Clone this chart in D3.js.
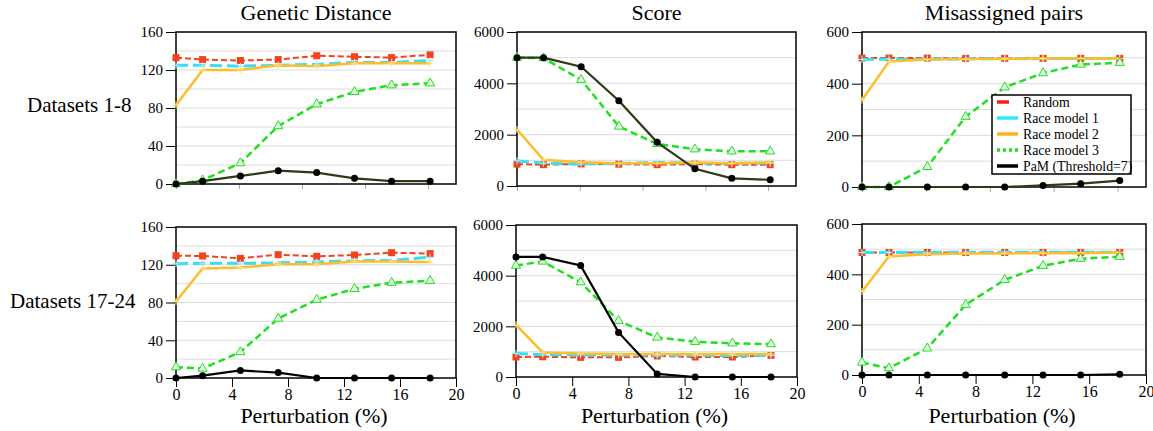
<!DOCTYPE html>
<html>
<head>
<meta charset="utf-8">
<script src="https://cdn.jsdelivr.net/npm/d3@7"></script>
<style>
body { margin: 0; background: #fff; }
svg text { fill: #000; }
</style>
</head>
<body>
<svg width="1153" height="431"></svg>
<script>
// perturbation levels (%)
var perturbation = [0, 1.9, 4.6, 7.3, 10.05, 12.75, 15.4, 18.15];

var seriesNames = ['Random', 'Race model 1', 'Race model 2', 'Race model 3', 'PaM (Threshold=7)'];
var panelTitles = ['Genetic Distance', 'Score', 'Misassigned pairs'];
var rowLabels = ['Datasets 1-8', 'Datasets 17-24'];
var yMax = [160, 6000, 600];
var yTickStep = [40, 2000, 200];
var yGridStep = [20, 1000, 100];
var xTicks = [0, 4, 8, 12, 16, 20];

// Datasets 1-8
var gdTopRandom = [133, 131, 130, 131, 135, 134, 133, 136];
var gdTopRace1 = [125, 125, 124, 125, 126, 128, 128, 130];
var gdTopRace2 = [83, 120, 120, 125, 124, 127, 127, 127];
var gdTopRace3 = [0, 4, 22, 61, 84, 97, 104, 106];
var gdTopPam = [0, 3, 8.5, 14, 12, 6, 3, 3];

var scTopRandom = [850, 830, 860, 850, 830, 850, 830, 830];
var scTopRace1 = [980, 890, 850, 880, 920, 890, 890, 890];
var scTopRace2 = [2200, 1020, 930, 890, 890, 920, 890, 920];
var scTopRace3 = [5000, 4980, 4140, 2320, 1640, 1430, 1350, 1350];
var scTopPam = [5000, 5000, 4650, 3320, 1700, 670, 300, 240];

var mpTopRandom = [499, 499, 499, 498, 498, 498, 498, 498];
var mpTopRace1 = [494, 495, 495, 496, 496, 497, 497, 497];
var mpTopRace2 = [337, 486, 494, 495, 496, 497, 497, 497];
var mpTopRace3 = [0, 0, 78, 272, 386, 441, 474, 481];
var mpTopPam = [0, 0, 0, 0, 0, 6, 13, 25];

// Datasets 17-24
var gdBotRandom = [129.6, 129.3, 126.8, 130.7, 128.9, 130.3, 132.8, 131.8];
var gdBotRace1 = [121, 121.5, 121.5, 122, 123, 124, 124.7, 128];
var gdBotRace2 = [81, 116, 117, 120.5, 120.5, 123.5, 123.5, 123];
var gdBotRace3 = [11.5, 10, 27.5, 63, 83, 94.5, 101, 103];
var gdBotPam = [0, 2.5, 8, 5.7, 0, 0, 0, 0];

var scBotRandom = [790, 800, 775, 775, 830, 790, 790, 850];
var scBotRace1 = [930, 880, 870, 870, 860, 860, 850, 850];
var scBotRace2 = [2060, 970, 930, 905, 905, 905, 905, 905];
var scBotRace3 = [4400, 4560, 3740, 2220, 1560, 1390, 1330, 1300];
var scBotPam = [4740, 4740, 4400, 1760, 120, 0, 0, 0];

var mpBotRandom = [487, 487, 487, 487, 487, 487, 487, 487];
var mpBotRace1 = [487, 487, 488, 488, 488, 488, 488, 488];
var mpBotRace2 = [332, 471, 480, 483, 483, 484, 484, 487];
var mpBotRace3 = [50, 27, 106, 279, 378, 434, 462, 470];
var mpBotPam = [0, 0, 0, 0, 0, 0, 0, 3];

var panelData = [
    [
        [gdTopRandom, gdTopRace1, gdTopRace2, gdTopRace3, gdTopPam],
        [scTopRandom, scTopRace1, scTopRace2, scTopRace3, scTopPam],
        [mpTopRandom, mpTopRace1, mpTopRace2, mpTopRace3, mpTopPam]
    ],
    [
        [gdBotRandom, gdBotRace1, gdBotRace2, gdBotRace3, gdBotPam],
        [scBotRandom, scBotRace1, scBotRace2, scBotRace3, scBotPam],
        [mpBotRandom, mpBotRace1, mpBotRace2, mpBotRace3, mpBotPam]
    ]
];

// plot boxes [left, right, top, bottom]
var boxes = [
    [[176, 456, 32, 184], [517, 796, 32, 186], [862, 1146, 32, 187]],
    [[176, 456, 227, 378], [516, 797, 225, 377], [862, 1146, 224, 375]]
];

var colors = ['#f5421c', '#3cdcf2', '#fdbe2c', '#1fe01f', '#2c3a15'];
var serif = "'Liberation Serif', 'Times New Roman', Times, 'DejaVu Serif', serif";

var svg = d3.select('svg').attr('font-family', serif);

function drawSeries(g, x, y, values, i, row) {
    var pts = perturbation.map(function(p, k) { return [x(p), y(values[k])]; });
    var line = d3.line();
    var col = colors[i];
    if (i == 4 && row == 1) col = '#000';
    var path = g.append('path')
        .attr('d', line(pts))
        .attr('fill', 'none')
        .attr('stroke', col);
    if (i == 0) path.attr('stroke-width', 2).attr('stroke-dasharray', '6,3');
    if (i == 1) path.attr('stroke-width', 3).attr('stroke-dasharray', '12,5');
    if (i == 2) path.attr('stroke-width', 2.5);
    if (i == 3) path.attr('stroke-width', 2.5).attr('stroke-dasharray', '7,4');
    if (i == 4) path.attr('stroke-width', 2.2);

    pts.forEach(function(p) {
        if (i == 0) {
            g.append('rect').attr('x', p[0] - 3.5).attr('y', p[1] - 3.5)
                .attr('width', 7).attr('height', 7).attr('fill', col);
        } else if (i == 1 || i == 2) {
            g.append('path')
                .attr('d', d3.symbol(d3.symbolCross2 || d3.symbolX, 18)())
                .attr('transform', 'translate(' + p[0] + ',' + p[1] + ') rotate(45)')
                .attr('fill', 'none').attr('stroke', i == 1 ? '#9beef8' : '#fde08a').attr('stroke-width', 1);
        } else if (i == 3) {
            g.append('path')
                .attr('d', d3.symbol(d3.symbolTriangle, 36)())
                .attr('transform', 'translate(' + p[0] + ',' + p[1] + ')')
                .attr('fill', '#e6fbe6').attr('stroke', col).attr('stroke-width', 1);
        } else {
            g.append('circle').attr('cx', p[0]).attr('cy', p[1]).attr('r', 3.5).attr('fill', '#000');
        }
    });
}

for (var row = 0; row < 2; row++) {
    for (var c = 0; c < 3; c++) {
        var b = boxes[row][c];
        var x = d3.scaleLinear().domain([0, 20]).range([b[0], b[1]]);
        var y = d3.scaleLinear().domain([0, yMax[c]]).range([b[3], b[2]]);
        var g = svg.append('g');

        // gridlines
        g.selectAll('.grid')
            .data(d3.range(yGridStep[c], yMax[c], yGridStep[c]))
            .enter().append('line')
            .attr('x1', b[0]).attr('x2', b[1])
            .attr('y1', function(d) { return y(d); })
            .attr('y2', function(d) { return y(d); })
            .attr('stroke', '#dcdcdc').attr('stroke-width', 1);

        // y axis
        var yAxis = d3.axisLeft(y)
            .tickValues(d3.range(0, yMax[c] + 1, yTickStep[c]))
            .tickSize(10).tickPadding(3)
            .tickFormat(function(d) { return d; });
        var ya = g.append('g').attr('transform', 'translate(' + b[0] + ',0)').call(yAxis)
            .attr('font-family', serif).attr('font-size', 15);
        ya.select('.domain').remove();
        ya.selectAll('line').attr('stroke', '#000');

        // x axis
        if (row == 1) {
            var xAxis = d3.axisBottom(x).tickValues(xTicks).tickSize(9).tickPadding(2);
            var xa = g.append('g').attr('transform', 'translate(0,' + b[3] + ')').call(xAxis)
                .attr('font-family', serif).attr('font-size', 16);
            xa.select('.domain').remove();
            xa.selectAll('line').attr('stroke', '#000');
            g.append('text')
                .attr('x', (b[0] + b[1]) / 2 - 2).attr('y', 423)
                .attr('text-anchor', 'middle')
                .attr('font-size', 22)
                .text('Perturbation (%)');
        } else {
            var xAxisTop = d3.axisBottom(x).tickValues([0, 4.5, 9, 13.5, 18]).tickSize(5).tickFormat('');
            var xt = g.append('g').attr('transform', 'translate(0,' + b[3] + ')').call(xAxisTop);
            xt.select('.domain').remove();
            xt.selectAll('line').attr('stroke', '#aaa');
            g.append('text')
                .attr('x', (b[0] + b[1]) / 2).attr('y', 20)
                .attr('text-anchor', 'middle')
                .attr('font-size', 22)
                .text(panelTitles[c]);
        }

        // frame
        g.append('rect')
            .attr('x', b[0]).attr('y', b[2])
            .attr('width', b[1] - b[0]).attr('height', b[3] - b[2])
            .attr('fill', 'none').attr('stroke', '#000').attr('stroke-width', 1.5);

        var series = panelData[row][c];
        for (var i = 0; i < series.length; i++) {
            drawSeries(g, x, y, series[i], i, row);
        }
    }
}

// row labels
svg.append('text').attr('x', 27).attr('y', 112).attr('font-size', 21).text(rowLabels[0]);
svg.append('text').attr('x', 10).attr('y', 308).attr('font-size', 21).text(rowLabels[1]);

// legend
var lg = svg.append('g');
lg.append('rect')
    .attr('x', 992).attr('y', 95).attr('width', 139).attr('height', 79)
    .attr('fill', '#fff').attr('stroke', '#000').attr('stroke-width', 1.5);
var legendY = [102, 118, 134, 150, 166];
var legendColors = ['#ff1a1a', '#33e6ff', '#ffb31a', '#1fe01f', '#000'];
seriesNames.forEach(function(name, i) {
    var l = lg.append('line')
        .attr('x1', 997).attr('x2', i == 0 ? 1009 : 1018)
        .attr('y1', legendY[i]).attr('y2', legendY[i])
        .attr('stroke', legendColors[i]).attr('stroke-width', 3.5);
    if (i == 3) l.attr('stroke-dasharray', '3,3');
    lg.append('text')
        .attr('x', 1023).attr('y', legendY[i]).attr('dy', '0.35em')
        .attr('font-size', 13.8)
        .text(name);
});
</script>
</body>
</html>
